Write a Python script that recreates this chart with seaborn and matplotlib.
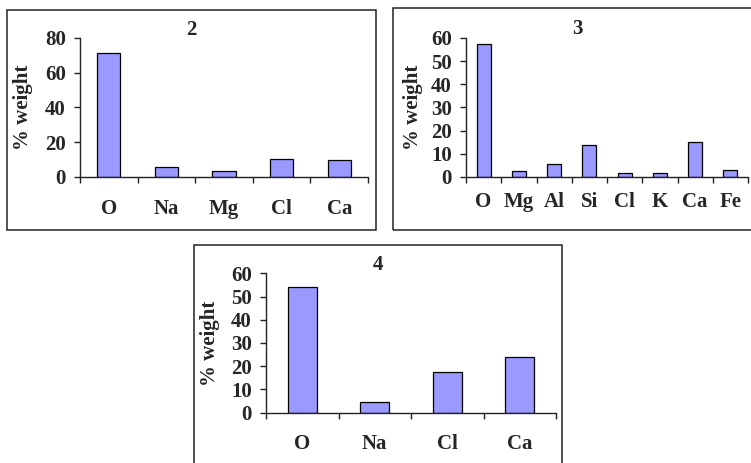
import matplotlib
matplotlib.use("Agg")
import matplotlib.pyplot as plt
from matplotlib.patches import Rectangle
from matplotlib.ticker import FixedLocator
import seaborn as sns
import pandas as pd
import numpy as np

# Composition (% weight) of the three analysed spots
elements_2 = ["O", "Na", "Mg", "Cl", "Ca"]
weight_2 = [71.2, 5.9, 3.5, 10.2, 9.8]

elements_3 = ["O", "Mg", "Al", "Si", "Cl", "K", "Ca", "Fe"]
weight_3 = [57.4, 2.6, 5.6, 13.7, 1.7, 1.7, 15.2, 3.0]

elements_4 = ["O", "Na", "Cl", "Ca"]
weight_4 = [54.0, 4.7, 17.6, 24.1]

titles = ["2", "3", "4"]
y_ticks = [[0, 20, 40, 60, 80], [0, 10, 20, 30, 40, 50, 60], [0, 10, 20, 30, 40, 50, 60]]

sns.set_style("white")
plt.rcParams["font.family"] = ["Liberation Serif", "DejaVu Serif"]
plt.rcParams["font.weight"] = "bold"

W, H = 751, 463
fig = plt.figure(figsize=(W / 100, H / 100), dpi=100)


def px_box(left, right, top, bottom):
    return [left / W, 1 - bottom / H, (right - left) / W, (bottom - top) / H]


# axes boxes in pixels: left, right, top(y of max), bottom(y of zero)
panels = [
    dict(el=elements_2, w=weight_2, box=(80, 368, 38, 177), frame=(7, 376, 10, 230),
         title_xy=(191.5, 30), ylab_x=23, pad=15.5),
    dict(el=elements_3, w=weight_3, box=(466, 748, 38, 177), frame=(393, 760, 8, 230),
         title_xy=(577, 29), ylab_x=413, pad=10.5),
    dict(el=elements_4, w=weight_4, box=(266, 556, 273.3, 412.7), frame=(194, 562, 245, 480),
         title_xy=(378, 265), ylab_x=210, pad=15),
]

bar_color = "#9999FF"
fs = 15

for p, title, yt in zip(panels, titles, y_ticks):
    # chart frame
    fl, fr, ft, fb = p["frame"]
    fig.patches.append(Rectangle((fl / W, 1 - fb / H), (fr - fl) / W, (fb - ft) / H,
                                 transform=fig.transFigure, fill=False,
                                 edgecolor="#222222", linewidth=1.1, zorder=0))
    l, r, t, b = p["box"]
    ax = fig.add_axes(px_box(l, r, t, b))
    ax.patch.set_alpha(0)
    df = pd.DataFrame({"element": p["el"], "weight": p["w"]})
    sns.barplot(data=df, x="element", y="weight", color=bar_color, width=0.4,
                edgecolor="black", linewidth=0.9, saturation=1, ax=ax)
    n = len(p["el"])
    ax.set_xlim(-0.5, n - 0.5)
    ax.set_ylim(yt[0], yt[-1])
    ax.set_yticks(yt)
    ax.set_yticklabels([str(v) for v in yt], fontsize=fs, fontweight="bold")
    ax.set_xticks(range(n))
    ax.set_xticklabels(p["el"], fontsize=fs, fontweight="bold")
    ax.xaxis.set_minor_locator(FixedLocator(np.arange(n + 1) - 0.5))
    ax.tick_params(axis="x", which="both", bottom=True)
    ax.tick_params(axis="x", which="major", length=0, pad=p["pad"])
    ax.tick_params(axis="x", which="minor", length=4.5, width=1, color="#222222", direction="out")
    ax.tick_params(axis="y", which="major", left=True, length=4.3, width=1, color="#222222",
                   direction="out", pad=6)
    for side in ("top", "right"):
        ax.spines[side].set_visible(False)
    for side in ("left", "bottom"):
        ax.spines[side].set_color("#222222")
        ax.spines[side].set_linewidth(1)
    ax.set_xlabel("")
    ax.set_ylabel("% weight", fontsize=fs, fontweight="bold")
    ax.yaxis.label.set_va("center")
    ax.yaxis.set_label_coords((p["ylab_x"] - l) / (r - l), 0.5)
    fig.text(p["title_xy"][0] / W, 1 - p["title_xy"][1] / H, title, ha="center", va="center",
             fontsize=fs, fontweight="bold")

fig.savefig("out.png", dpi=100)
